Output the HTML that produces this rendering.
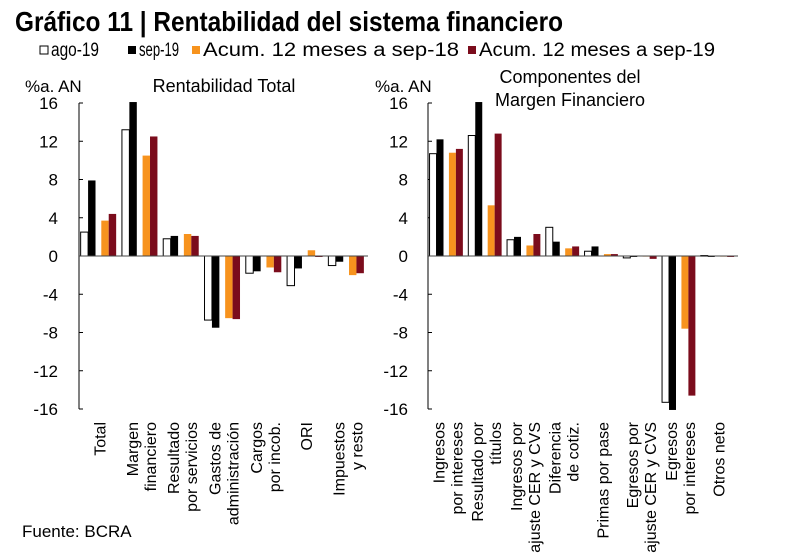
<!DOCTYPE html>
<html><head><meta charset="utf-8"><style>
body{margin:0;background:#fff;}
svg{display:block;font-family:"Liberation Sans",sans-serif;}
</style></head><body>
<svg id="chart" width="800" height="555" viewBox="0 0 800 555">
<text x="15" y="31" font-size="28" font-weight="bold" font-family="Liberation Sans Narrow, Liberation Sans, sans-serif" textLength="548" lengthAdjust="spacingAndGlyphs">Gráfico 11 | Rentabilidad del sistema financiero</text>
<g id="legend"></g>
<g id="left"></g>
<g id="right"></g>
<text x="22" y="537" font-size="17">Fuente: BCRA</text>
</svg>
<script>
const seriesNames = ["ago-19","sep-19","Acum. 12 meses a sep-18","Acum. 12 meses a sep-19"];
const seriesColors = ["#fff","#000","#f7931e","#7b0c1c"];
const ticks = [16,12,8,4,0,-4,-8,-12,-16];
const leftCats = [["Total"],["Margen","financiero"],["Resultado","por servicios"],["Gastos de","administración"],["Cargos","por incob."],["ORI"],["Impuestos","y resto"]];
const leftAgo = [2.5,13.2,1.8,-6.7,-1.8,-3.1,-1.0];
const leftSep = [7.9,16.1,2.1,-7.5,-1.6,-1.3,-0.6];
const leftAcum18 = [3.7,10.5,2.3,-6.5,-1.2,0.6,-2.0];
const leftAcum19 = [4.4,12.5,2.1,-6.6,-1.7,-0.1,-1.8];
const rightCats = [["Ingresos","por intereses"],["Resultado por","títulos"],["Ingresos por","ajuste CER y CVS"],["Diferencia","de cotiz."],["Primas por pase"],["Egresos por","ajuste CER y CVS"],["Egresos","por intereses"],["Otros neto"]];
const rightAgo = [10.7,12.6,1.7,3.0,0.5,-0.2,-15.3,0.05];
const rightSep = [12.2,16.1,2.0,1.5,1.0,-0.1,-16.1,-0.1];
const rightAcum18 = [10.8,5.3,1.1,0.8,0.2,0.0,-7.6,0.0];
const rightAcum19 = [11.2,12.8,2.3,1.0,0.2,-0.3,-14.6,-0.1];

const NS="http://www.w3.org/2000/svg";
function mk(tag,attrs,parent){const e=document.createElementNS(NS,tag);for(const k in attrs)e.setAttribute(k,attrs[k]);parent.appendChild(e);return e;}

// legend
const lg=document.getElementById('legend');
const sx=[40,128,192,468];
const lx=[51,139,203,479];
const lw=[48,40,256,236];
seriesNames.forEach((n,i)=>{
  const r=mk('rect',{x:sx[i],y:46,width:8,height:8,fill:seriesColors[i],stroke:i==0?'#000':'none','stroke-width':1},lg);
  
  
  const t=mk('text',{x:lx[i],y:56,'font-size':19,'font-family':'Liberation Sans Narrow, Liberation Sans, sans-serif',textLength:lw[i],lengthAdjust:'spacingAndGlyphs'},lg);
  t.textContent=n;
  
  
});

function panel(g,ax,ax2,cats,vals,title,tickX){
  const top=103,bot=409;
  const y=v=>top+(16-v)*(bot-top)/32;
  const catW=(ax2-ax)/cats.length, slot=catW/2, bw=slot*0.36, off=slot*0.08;
  ticks.forEach(t=>{
    const tl=mk('text',{x:tickX,y:y(t)+6,'font-size':17,'text-anchor':'end'},g);
    tl.textContent=t;
    
    
    const tm=mk('line',{x1:ax,x2:ax+4,y1:y(t),y2:y(t),stroke:'#000','stroke-width':1},g);
    
    
  });
  const al=mk('line',{x1:ax,x2:ax,y1:top,y2:bot,stroke:'#000','stroke-width':1},g);
  
  
  cats.forEach((c,i)=>{
    const cx=ax+catW*i;
    vals.forEach((arr,s)=>{
      const v=arr[i];
      const x=cx+(s<2?0:slot)+off+(s%2)*bw;
      const y0=y(0),y1=y(v);
      const b=mk('rect',{x:x,y:Math.min(y0,y1),width:bw,height:Math.max(Math.abs(y1-y0),0.6),fill:seriesColors[s],stroke:s==0?'#000':'none','stroke-width':1},g);
      
      
    });
    const mid=cx+catW/2;
    const n=c.length;
    c.forEach((line,k)=>{
      const lxp=mid+(k-(n-1)/2)*18+6;
      const t=mk('text',{x:lxp,y:422,'font-size':16,'text-anchor':'end',transform:`rotate(-90 ${lxp} 422)`},g);
      t.textContent=line;
      
      
    });
  });
  const z=mk('line',{x1:ax,x2:ax2,y1:y(0),y2:y(0),stroke:'#444','stroke-width':1},g);
  
  
  const u=mk('text',{x:tickX-33,y:92,'font-size':17},g);
  u.textContent='%a. AN';
  
  
  title.forEach((tl,k)=>{
    const t=mk('text',{x:title.cx,y:title.y+k*23,'font-size':18,'text-anchor':'middle'},g);
    t.textContent=tl;
    
    
  });
}
const lt=["Rentabilidad Total"]; lt.cx=224; lt.y=92;
const rt=["Componentes del","Margen Financiero"]; rt.cx=570; rt.y=83;
panel(document.getElementById('left'),79,368,leftCats,[leftAgo,leftSep,leftAcum18,leftAcum19],lt,58);
panel(document.getElementById('right'),428,738,rightCats,[rightAgo,rightSep,rightAcum18,rightAcum19],rt,408);
</script>
</body></html>
